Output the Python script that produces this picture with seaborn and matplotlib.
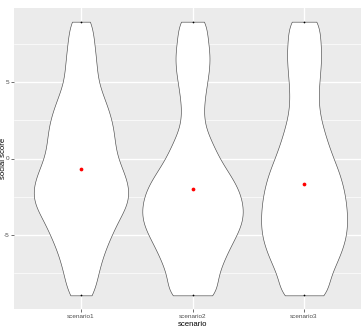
import numpy as np
import pandas as pd
import matplotlib
matplotlib.use("Agg")
import matplotlib.pyplot as plt
from matplotlib.ticker import FixedLocator
import seaborn as sns

# Social score survey: number of respondents at each integer score, per scenario
scenarios = ["scenario1", "scenario2", "scenario3"]
score_levels = [9, 8, 7, 6, 5, 4, 3, 2, 1, 0, -1, -2, -3, -4, -5, -6, -7, -8, -9]
counts_scenario1 = [24, 26, 30, 33, 35, 48, 60, 68, 70, 75, 91, 101, 99, 78, 64, 50, 40, 33, 27]
counts_scenario2 = [31, 28, 35, 34, 29, 24, 21, 24, 40, 52, 73, 92, 100, 102, 88, 71, 58, 46, 54]
counts_scenario3 = [33, 31, 35, 33, 30, 28, 30, 38, 47, 58, 71, 79, 84, 86, 85, 76, 63, 47, 52]
mean_scores = [-0.71, -1.99, -1.70]

y_major = [-5, 0, 5]
y_minor = [-7.5, -2.5, 2.5, 7.5]

frames = []
for name, counts in zip(scenarios, [counts_scenario1, counts_scenario2, counts_scenario3]):
    frames.append(pd.DataFrame({"scenario": name,
                                "social score": np.repeat(score_levels, counts)}))
df = pd.concat(frames, ignore_index=True)

sns.set_theme(style="darkgrid", rc={"axes.facecolor": "#EBEBEB",
                                    "grid.color": "white",
                                    "axes.unicode_minus": False})
plt.rcParams["font.family"] = ["Liberation Sans", "DejaVu Sans"]

fig = plt.figure(figsize=(3.61, 3.27), dpi=100)
ax = fig.add_axes([14 / 361, 18 / 327, 357 / 361, 301 / 327])


def kernel_width(kde):
    # fixed kernel bandwidth of 0.8 score units
    return 0.8 / np.std(kde.dataset, ddof=1)


sns.violinplot(data=df, x="scenario", y="social score", order=scenarios,
               color="white", saturation=1, linecolor="#4a4a4a", linewidth=0.45,
               inner=None, cut=0, density_norm="area", width=0.9,
               bw_method=kernel_width, ax=ax)

# observed extremes of each scenario
extremes = df.groupby("scenario")["social score"].agg(["min", "max"]).reindex(scenarios)
pos = np.arange(len(scenarios))
ax.plot(np.r_[pos, pos], np.r_[extremes["min"].values, extremes["max"].values],
        linestyle="none", marker="o", markersize=1.25, markeredgewidth=0,
        color="black", zorder=4)

# scenario means
sns.pointplot(x=scenarios, y=mean_scores, order=scenarios, color="red",
              linestyle="none", marker="o", markersize=2.7, markeredgewidth=0,
              errorbar=None, ax=ax)

ax.set_xlim(-0.6, 2.6)
ax.set_ylim(-9.9, 9.9)
ax.yaxis.set_major_locator(FixedLocator(y_major))
ax.yaxis.set_minor_locator(FixedLocator(y_minor))
ax.set_axisbelow(True)
ax.xaxis.grid(True, which="major", color="white", linewidth=1.0)
ax.yaxis.grid(True, which="major", color="white", linewidth=1.0)
ax.yaxis.grid(True, which="minor", color="white", linewidth=0.5)
for spine in ax.spines.values():
    spine.set_visible(False)
ax.tick_params(which="major", bottom=True, left=True, length=2.2, width=0.5,
               color="#333333", labelsize=4.6, labelcolor="#4D4D4D", pad=1.2)
ax.tick_params(which="minor", length=0)
ax.set_xlabel("scenario", fontsize=5.6, color="black", labelpad=1.5)
ax.set_ylabel("social score", fontsize=5.6, color="black")
ax.yaxis.set_label_coords(-0.0196, 0.5)

fig.savefig("out.png", dpi=100)
